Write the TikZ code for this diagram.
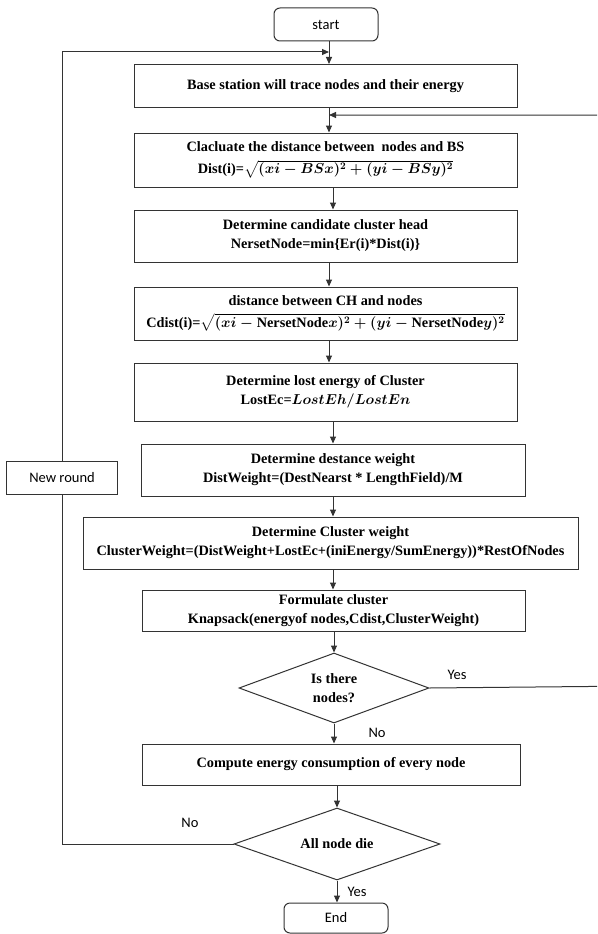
\documentclass[tikz,border=0pt]{standalone}
\usepackage{fontspec}
\usepackage{amsmath}
\setmainfont{Liberation Serif}
\newfontfamily\lblfont{Carlito}
\usetikzlibrary{arrows.meta,shapes.geometric}
\definecolor{linec}{HTML}{333333}
\begin{document}
\begin{tikzpicture}[x=1pt,y=-1pt,
  box/.style={draw=linec,line width=1pt,rectangle,inner sep=0pt,align=center,
    font=\bfseries\fontsize{14.3}{19}\selectfont},
  term/.style={draw=linec,line width=1pt,rounded corners=6pt,inner sep=0pt,
    font=\lblfont\fontsize{14.5}{17}\selectfont},
  dec/.style={draw=linec,line width=1pt,diamond,aspect=2.7,inner sep=0pt,align=center,
    font=\bfseries\fontsize{14.3}{19}\selectfont},
  lbl/.style={inner sep=0pt,font=\lblfont\fontsize{14.5}{17}\selectfont},
  conn/.style={draw=linec,line width=1pt},
  arr/.style={conn,-{Triangle[length=7pt,width=6pt]}}
]
\useasboundingbox (0,0) rectangle (597,934);
\clip (0,0) rectangle (597,934);
\fill[white] (0,0) rectangle (597,934);

\node[term,minimum width=104pt,minimum height=33pt] (start) at (326,24.5) {start};
\node[box,minimum width=383pt,minimum height=43pt] (b1) at (325.5,86) {Base station will trace nodes and their energy};
\node[box,minimum width=383pt,minimum height=54pt] (b2) at (325.5,160) {Clacluate the distance between\ \ nodes and BS\\[3pt]Dist(i)={\boldmath$\sqrt{(xi-BSx)^2+(yi-BSy)^2}$}};
\node[box,minimum width=383pt,minimum height=52pt] (b3) at (325.5,236) {Determine candidate cluster head\\NersetNode=min\{Er(i)*Dist(i)\}};
\node[box,minimum width=383pt,minimum height=53pt] (b4) at (325.5,313.5) {distance between CH and nodes\\[3pt]Cdist(i)={\boldmath$\sqrt{(xi-\text{NersetNode}x)^2+(yi-\text{NersetNode}y)^2}$}};
\node[box,minimum width=383pt,minimum height=58pt] (b5) at (325.5,392) {Determine lost energy of Cluster\\LostEc={\boldmath$LostEh/LostEn$}};
\node[box,minimum width=384pt,minimum height=52pt] (b6) at (333,470) {Determine destance weight\\DistWeight=(DestNearst * LengthField)/M};
\node[box,minimum width=495pt,minimum height=52pt] (b7) at (330.5,543) {Determine Cluster weight\\ClusterWeight=(DistWeight+LostEc+(iniEnergy/SumEnergy))*RestOfNodes};
\node[box,minimum width=383pt,minimum height=41pt] (b8) at (333.5,610.5) {Formulate cluster\\Knapsack(energyof nodes,Cdist,ClusterWeight)};
\node[dec,minimum width=190pt,minimum height=70pt] (d1) at (334,688) {Is there\\nodes?};
\node[box,minimum width=378pt,minimum height=41pt] (b9) at (331,764.5) {Compute energy consumption of every node};
\node[dec,minimum width=206pt,minimum height=72pt] (d2) at (337,844) {All node die};
\node[term,minimum width=104pt,minimum height=30pt] (endn) at (336,918) {End};
\node[box,font=\lblfont\fontsize{14.5}{17}\selectfont,minimum width=111pt,minimum height=33pt] (nr) at (62,477.5) {New round};

\node[lbl] (yes1) at (457,675) {Yes};
\node[lbl] (no1) at (377,733) {No};
\node[lbl] (no2) at (190,823) {No};
\node[lbl] (yes2) at (357,892) {Yes};

\coordinate (cA) at (329,0);
\coordinate (cB) at (333,0);
\coordinate (j1) at (329,52);
\coordinate (j2) at (329,115);
\coordinate (far) at (640,686);

\draw[arr] (start.south -| cA) -- (b1.north -| cA);
\draw[arr] (b1.south -| cA) -- (b2.north -| cA);
\draw[arr] (b2.south -| cB) -- (b3.north -| cB);
\draw[arr] (b3.south -| cA) -- (b4.north -| cA);
\draw[arr] (b4.south -| cA) -- (b5.north -| cA);
\draw[arr] (b5.south -| cB) -- (b6.north -| cB);
\draw[arr] (b6.south -| cB) -- (b7.north -| cB);
\draw[arr] (b7.south -| cB) -- (b8.north -| cB);
\draw[arr] (b8.south -| d1.north) -- (d1.north);
\draw[arr] (d1.south) -- (b9.north -| d1.south);
\draw[arr] (b9.south -| d2.north) -- (d2.north);
\draw[arr] (d2.south) -- (endn.north -| d2.south);

\draw[conn] (d2.west) -| (nr.south);
\draw[arr] (nr.north) |- (j1);
\draw[arr] (d1.east) -- (far) |- (j2);
\end{tikzpicture}
\end{document}
